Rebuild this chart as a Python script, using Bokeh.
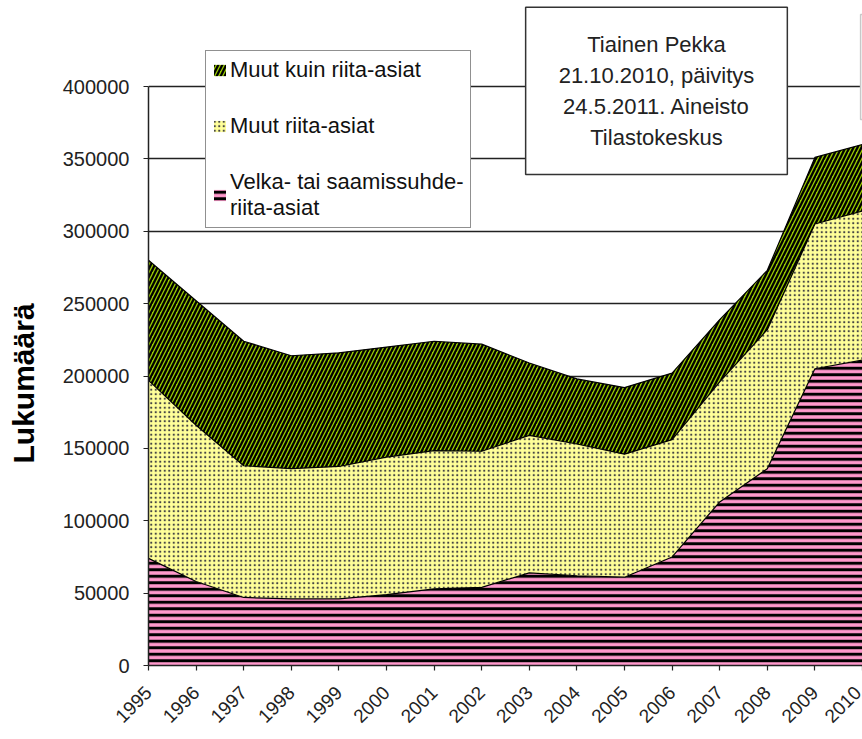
from math import pi
from bokeh.plotting import figure
from bokeh.models import (ColumnDataSource, Legend, LegendItem, Label, Title,
                          FixedTicker, NumeralTickFormatter)
from bokeh.embed import file_html
from bokeh.resources import INLINE

# ---- data ----
years = [1995, 1996, 1997, 1998, 1999, 2000, 2001, 2002,
         2003, 2004, 2005, 2006, 2007, 2008, 2009, 2010]
velka = [74000, 58000, 47000, 46000, 46000, 49000, 53000, 54000,
         64000, 62000, 61000, 75000, 113000, 136000, 205000, 211000]
muut_riita = [123000, 108000, 91000, 90000, 91500, 95000, 95500, 94000,
              95000, 91000, 85000, 81000, 83000, 96000, 100000, 103000]
muut_kuin = [83000, 86000, 86000, 78000, 78500, 76000, 75500, 74000,
             50000, 45000, 46000, 46000, 43000, 41000, 46000, 46000]
y_ticks = [0, 50000, 100000, 150000, 200000, 250000, 300000, 350000, 400000]

series_names = ["Velka- tai saamissuhde-\nriita-asiat", "Muut riita-asiat", "Muut kuin riita-asiat"]
note_text = "Tiainen Pekka\n21.10.2010, päivitys\n24.5.2011. Aineisto\nTilastokeskus"
y_title = "Lukumäärä"

src = ColumnDataSource(dict(year=years, velka=velka, muut_riita=muut_riita, muut_kuin=muut_kuin))

FONT = "Liberation Sans"
FRAME_H = 665           # frame reaches the top of the canvas; data region ends at 400000
Y_TOP = 400000 * FRAME_H / 579.0

p = figure(frame_width=714, frame_height=FRAME_H,
           x_range=(1995, 2010), y_range=(0, Y_TOP),
           output_backend="svg", toolbar_location=None,
           min_border_left=148, min_border_right=0,
           min_border_top=0, min_border_bottom=74,
           background_fill_color="white", border_fill_color="white")
p.outline_line_color = None

stackers = ["velka", "muut_riita", "muut_kuin"]
areas = p.varea_stack(stackers, x="year", source=src,
                      fill_color=["#FF99CC", "#FFFF99", "#99CC00"],
                      hatch_pattern=["horizontal_line", "dot", "right_diagonal_line"],
                      hatch_color=["black", "#444444", "black"],
                      hatch_scale=[6.5, 4.5, 8.0],
                      hatch_weight=[3.0, 1.0, 2.3])
p.vline_stack(stackers, x="year", source=src, line_color="black", line_width=1.2)

# axes
p.xaxis.ticker = FixedTicker(ticks=years)
p.yaxis.ticker = FixedTicker(ticks=y_ticks)
p.yaxis.bounds = (0, 400000)
p.yaxis.formatter = NumeralTickFormatter(format="0")
p.xaxis.major_label_orientation = pi / 4
for ax in (p.xaxis, p.yaxis):
    ax.minor_tick_line_color = None
    ax.major_tick_in = 0
    ax.major_tick_out = 5
    ax.axis_line_color = "#222222"
    ax.axis_line_width = 1.5
    ax.major_tick_line_color = "#222222"
    ax.major_tick_line_width = 1.2
    ax.major_label_text_font = FONT
    ax.major_label_text_color = "#222222"
p.yaxis.major_label_text_font_size = "20px"
p.yaxis.major_label_standoff = 14
p.xaxis.major_label_text_font_size = "19px"
p.xaxis.major_label_standoff = 19
# a blank spacer label widens the axis panel so the title sits further left
p.yaxis.axis_label = "\u00a0"
p.yaxis.axis_label_text_font_size = "6px"
p.yaxis.axis_label_standoff = 5

# y-axis title, placed in the left panel so it can be centred on the 0..400000 span
ytitle = Title(text=y_title, align="left", offset=202, vertical_align="middle",
               text_font=FONT, text_font_style="bold", text_font_size="30px",
               text_color="black", standoff=10)
p.add_layout(ytitle, "left")

p.xgrid.visible = False
p.ygrid.grid_line_color = "#222222"
p.ygrid.grid_line_width = 1.3
p.ygrid.bounds = (0, 400000)

# legend (bottom-left corner given in frame pixels from the frame's bottom-left)
legend = Legend(items=[
    LegendItem(label=series_names[2], renderers=[areas[2]]),
    LegendItem(label=series_names[1], renderers=[areas[1]]),
    LegendItem(label=series_names[0], renderers=[areas[0]]),
], location=(57, 437))
legend.border_line_color = "#222222"
legend.border_line_width = 1.5
legend.background_fill_color = "white"
legend.background_fill_alpha = 1.0
legend.label_text_font = FONT
legend.label_text_font_size = "22px"
legend.label_text_color = "#111111"
legend.glyph_width = 15
legend.glyph_height = 14
legend.spacing = 30
legend.padding = 6
legend.margin = 0
legend.label_standoff = 3
p.add_layout(legend)

# note box
note = Label(x=2005.672, y=396900, text=note_text,
             text_align="center", text_baseline="middle",
             text_font=FONT, text_font_size="22px", text_color="#222222",
             text_line_height=1.23,
             border_line_color="#333333", border_line_width=1.5,
             background_fill_color="white", padding=(33, 25))
p.add_layout(note)

# edge of a second (cut-off) box at the right border
edge_box = Label(x=2009.96, y=413500, text=" ",
                 text_align="left", text_baseline="middle",
                 text_font=FONT, text_font_size="22px",
                 border_line_color="#c8c8c8", border_line_width=1.5,
                 background_fill_color="white", padding=(2, 40))
p.add_layout(edge_box)

open("out.html", "w").write(file_html(p, INLINE))
